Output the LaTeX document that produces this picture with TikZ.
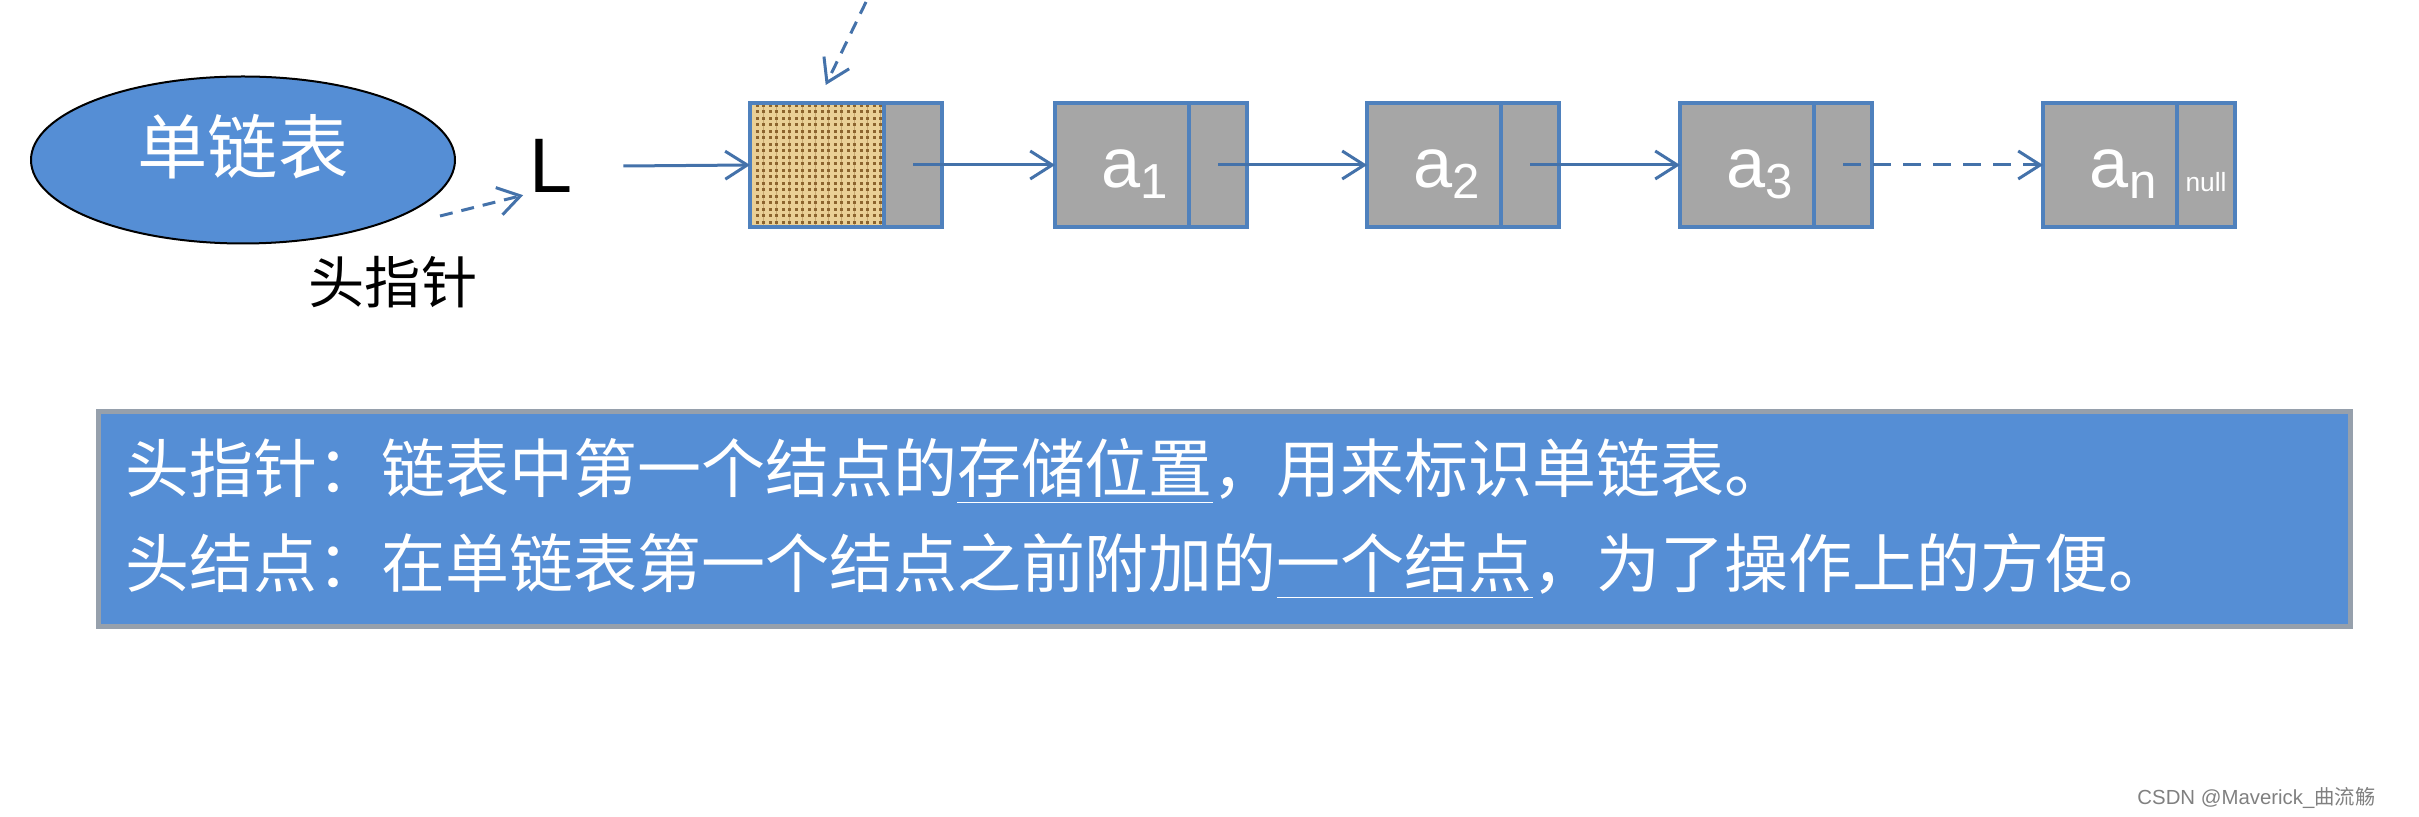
\documentclass[tikz,border=0pt]{standalone}
\usepackage{fontspec}
\setmainfont{Liberation Sans}
\newfontfamily\cjk{Noto Sans CJK SC}
\usepackage{tikz}
\usetikzlibrary{arrows.meta}
\usetikzlibrary{patterns.meta}
\usetikzlibrary{positioning}
\usetikzlibrary{shapes.geometric}

\definecolor{linkblue}{RGB}{68,114,170}
\definecolor{cellblue}{RGB}{79,129,189}
\definecolor{cellgray}{RGB}{166,166,166}
\definecolor{boxblue}{RGB}{85,142,213}
\definecolor{boxrim}{RGB}{150,160,172}
\definecolor{burlap}{RGB}{140,100,46}
\definecolor{weave}{RGB}{234,208,150}

\newcommand{\elem}[1]{\raisebox{-0.9mm}[\height][\depth]{\hspace*{2.8mm}a\textsubscript{#1}}}

\tikzset{
  cell/.style={rectangle,draw=cellblue,line width=0.4mm,inner sep=0pt,
    outer sep=0pt,minimum height=12.4mm,text=white,
    font=\fontsize{20}{24}\selectfont},
  datacell/.style={cell,fill=cellgray,minimum width=13.4mm},
  headcell/.style={cell,minimum width=13.4mm,preaction={fill=burlap},
    pattern={Hatch[distance=0.65mm,line width=0.33mm]},pattern color=weave},
  ptrcell/.style={cell,fill=cellgray,minimum width=5.8mm},
  link/.style={linkblue,line width=0.3mm,
    -{Straight Barb[length=2.2mm,width=2.8mm]}},
  ptrlink/.style={link,dash pattern=on 1.3mm off 0.9mm},
}

\begin{document}
\begin{tikzpicture}[x=0.1mm,y=-0.1mm]
    \useasboundingbox (0,0) rectangle (2419,817);

    % Ellipse, L and head pointer
    \node [ellipse,draw=black,line width=0.2mm,fill=boxblue,
        minimum width=42.4mm,minimum height=16.7mm,text=white,
        font=\cjk\fontsize{20}{24}\selectfont]
        (ell) at (243,160) {\raisebox{1.3mm}[\height][\depth]{单链表}};
    \node [anchor=base west,inner sep=0pt,font=\fontsize{22}{26}\selectfont]
        (L) at (529,193) {L};
    \node [font=\cjk\fontsize{16}{19}\selectfont] (hplabel) at (393,282) {头指针};
    \coordinate (hpstart) at (440,216);
    \coordinate (top) at (866,2);

    % Nodes
    \node [headcell] (d0) at (817,165) {};
    \node [ptrcell,right=0pt of d0] (p0) {};
    \foreach \i/\x in {1/1122,2/1434,3/1747} {
        \node [datacell] (d\i) at (\x,165) {\elem{\i}};
        \node [ptrcell,right=0pt of d\i] (p\i) {};
    }
    \node [datacell] (dn) at (2110,165) {\elem{n}};
    \node [ptrcell,right=0pt of dn,font=\fontsize{7.5}{9}\selectfont]
        (pn) {\raisebox{-2.7mm}[0pt][0pt]{null}};

    % Links
    \draw [ptrlink,shorten >=0.6mm] (hpstart) -- (L.south west);
    \draw [ptrlink,shorten >=2mm] (top) -- (d0.north);
    \draw [link,shorten <=5mm] (L.east) -- (d0.west);
    \foreach \i/\j in {0/1,1/2,2/3}
        \draw [link] (p\i.center) -- (d\j.west);
    \draw [link,dash pattern=on 1.8mm off 1.2mm] (p3.center) -- (dn.west);

    % Description box
    \node [draw=boxrim,line width=0.5mm,fill=boxblue,text=white,
        text width=219.8mm,inner xsep=2.7mm,inner ysep=0pt,
        minimum height=21.5mm,align=left,
        font=\cjk\fontsize{18.2}{27}\selectfont] (desc) at (1224.5,519)
        {头指针：链表中第一个结点的\underline{存储位置}，用来标识单链表。\\
         头结点：在单链表第一个结点之前附加的\underline{一个结点}，为了操作上的方便。};

    % Watermark
    \node [anchor=east,text=gray,font=\fontsize{5.8}{7}\selectfont]
        (mark) at (2388,798) {CSDN @Maverick\_{\cjk 曲流觞}};
\end{tikzpicture}
\end{document}
